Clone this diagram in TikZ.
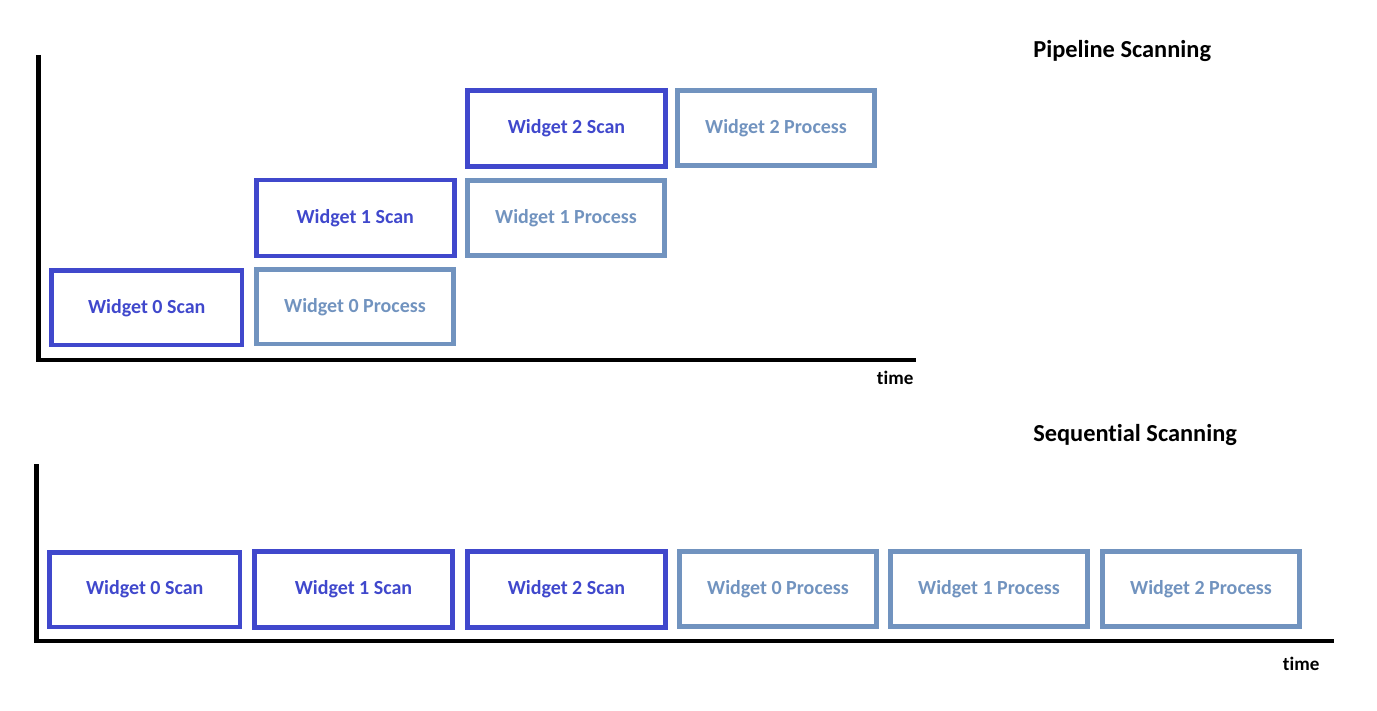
\documentclass[tikz,border=0pt]{standalone}
\usepackage{fontspec}
\setmainfont{Carlito}[Ligatures={NoCommon,NoRare,NoContextual}]
\usetikzlibrary{positioning}
\definecolor{scanBlue}{RGB}{64,72,204}
\definecolor{procBlue}{RGB}{113,147,191}

\begin{document}
\begin{tikzpicture}[x=0.75pt, y=-0.75pt,
  % ── boxes on the time line ──
  scanbox/.style={draw=scanBlue, line width=3.5pt, rectangle, inner sep=0pt,
                  minimum width=148.5pt, minimum height=57pt,
                  text=scanBlue, font=\fontsize{15pt}{18pt}\selectfont\bfseries},
  procbox/.style={draw=procBlue, line width=3.5pt, rectangle, inner sep=0pt,
                  minimum width=148pt, minimum height=56pt,
                  text=procBlue, font=\fontsize{15pt}{18pt}\selectfont\bfseries},
  % ── axes & labels ──
  axisline/.style={line width=3.6pt, black},
  charttitle/.style={anchor=base west, inner sep=0pt,
                     font=\fontsize{18.3pt}{22pt}\selectfont\bfseries},
  timelabel/.style={anchor=base west, inner sep=0pt,
                    font=\fontsize{14.3pt}{17pt}\selectfont\bfseries},
]
\useasboundingbox (0,0) rectangle (1377,710);

%% ─── 1. Pipeline scanning (top chart) ───────────────────────────
% rows y: 0 = 307.5 | 1 = 218 | 2 = 128.5
\coordinate (pTop)    at (38.5,55);
\coordinate (pOrigin) at (38.5,360);
\coordinate (pEnd)    at (916,360);
\draw[axisline] (pTop) -- (pOrigin) -- (pEnd);

\node[scanbox, minimum width=143pt, minimum height=56pt] (pS0) at (146.75,307.75) {Widget 0 Scan};
\node[procbox] (pP0) at (355,306.8) {Widget 0 Process};
\node[scanbox] (pS1) at (355.25,218) {Widget 1 Scan};
\node[procbox] (pP1) at (566,218) {Widget 1 Process};
\node[scanbox] (pS2) at (566.5,128.6) {Widget 2 Scan};
\node[procbox] (pP2) at (776,127.9) {Widget 2 Process};

\node[charttitle] (pTitle) at (1033,57.7) {Pipeline Scanning};
\node[timelabel]  (pTime)  at (876.7,384.3) {time};

%% ─── 2. Sequential scanning (bottom chart) ─────────────────────
\def\sy{589.5}   % row y
\coordinate (sTop)    at (36.5,464);
\coordinate (sOrigin) at (36.5,641);
\coordinate (sEnd)    at (1334,641);
\draw[axisline] (sTop) -- (sOrigin) -- (sEnd);

\node[scanbox, minimum width=143pt, minimum height=56pt] (sS0) at (144.75,\sy) {Widget 0 Scan};
\node[scanbox] (sS1) at (353.5,\sy) {Widget 1 Scan};
\node[scanbox] (sS2) at (566.5,\sy) {Widget 2 Scan};
\node[procbox] (sP0) at (778,589) {Widget 0 Process};
\node[procbox] (sP1) at (989,589) {Widget 1 Process};
\node[procbox] (sP2) at (1201,589) {Widget 2 Process};

\node[charttitle] (sTitle) at (1033,441) {Sequential Scanning};
\node[timelabel]  (sTime)  at (1282.7,670) {time};

\end{tikzpicture}
\end{document}
